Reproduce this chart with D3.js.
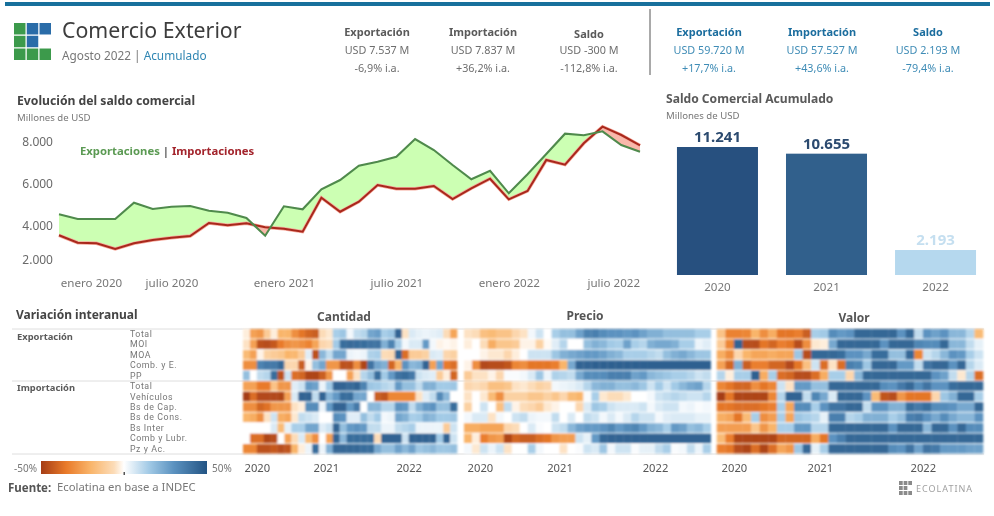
<!DOCTYPE html>
<html>
<head>
<meta charset="utf-8">
<script src="https://cdnjs.cloudflare.com/ajax/libs/d3/7.8.5/d3.min.js"></script>
<style>
  html, body { margin: 0; padding: 0; background: #fff; }
  svg { display: block; font-family: "Noto Sans", sans-serif; filter: blur(0.35px); }
  .axis path, .axis line { display: none; }
</style>
</head>
<body>
<svg id="chart" width="994" height="516"></svg>
<script>
// serie mensual, enero 2020 a agosto 2022
var meses = d3.range(32);
var exportaciones = [4557, 4333, 4333, 4333, 5110, 4810, 4919, 4952, 4729, 4633, 4381, 3538, 4938, 4795, 5748, 6190,
  6871, 7062, 7300, 8143, 7619, 6905, 6224, 6633, 5557, 6462, 7429, 8395, 8319, 8510, 7857, 7537];
var importaciones = [3557, 3205, 3176, 2905, 3176, 3333, 3443, 3524, 4143, 4033, 4129, 3938, 3871, 3729, 5348, 4681,
  5157, 5952, 5776, 5776, 5905, 5286, 5795, 6252, 5271, 5667, 7143, 6919, 7938, 8729, 8333, 7837];
var lineTicks = [8000, 6000, 4000, 2000];
var mesTicks = [0, 6, 12, 18, 24, 30];
var mesLabels = ["enero 2020", "julio 2020", "enero 2021", "julio 2021", "enero 2022", "julio 2022"];

var anios = ["2020", "2021", "2022"];
var saldoAcumulado = [11241, 10655, 2193];
var saldoLabels = ["11.241", "10.655", "2.193"];
var saldoColores = ["#27507f", "#31608c", "#b5d8ee"];
var saldoTextoColores = ["#2b4a6f", "#2b4a6f", "#c5dff0"];

var filas = ["Total", "MOI", "MOA", "Comb. y E.", "PP", "Total ", "Vehículos", "Bs de Cap.", "Bs de Cons.", "Bs Inter", "Comb y Lubr.", "Pz y Ac."];
var anioTicks = [2, 12, 24];

var cantidad = [
  [-3,-25,-28,-12,-3,-20,-20,-30,-36,-40,-42,-6,-4,14,16,2,10,12,25,27,14,16,45,-5,6,4,3,4,5,-6,-24],
  [-5,-25,-45,-46,-43,-35,-30,-28,-30,-33,-24,-8,-6,15,42,43,42,42,40,40,22,35,14,2,6,6,28,2,-2,-1,-2],
  [-18,-25,-2,-10,-12,-14,-20,-19,-12,5,-45,20,10,25,25,3,2,3,13,14,-6,-7,45,-38,-12,-12,-10,6,5,-8,-10],
  [-30,-30,35,38,38,44,-8,-8,-42,-2,18,25,-28,-28,-45,-45,-30,-48,40,25,22,-40,-20,30,20,22,45,-25,25,-35,-38],
  [18,0,10,12,42,-45,8,-38,-40,-48,-48,-42,-28,0,0,-25,-5,12,18,42,15,28,40,42,38,8,6,5,-12,-3,-40],
  [-25,-25,-35,-35,-15,-28,-28,5,8,28,26,3,15,45,45,43,45,35,16,15,12,10,28,18,18,10,22,22,15,15,16],
  [-50,-38,-47,-47,-47,-48,-25,6,45,45,10,45,20,28,42,42,25,25,0,-42,-44,-32,-32,-32,-32,-5,5,10,33,20,0],
  [-30,-30,-40,-37,-28,-28,-28,-5,-3,32,32,3,28,45,45,28,38,0,20,20,12,12,30,28,10,22,28,30,18,18,42],
  [-20,-22,-30,-5,8,-22,-24,-4,10,8,6,0,0,32,30,5,5,18,10,15,2,3,25,22,14,15,22,20,15,15,16],
  [0,0,0,0,6,-18,4,14,14,25,25,5,8,45,18,28,30,28,10,10,3,3,10,12,14,3,3,3,3,-12,8],
  [0,-38,-38,-48,-46,0,-25,-6,6,-18,-30,0,-25,45,20,42,42,42,42,-6,45,45,45,8,45,45,45,45,15,45,8],
  [-32,-32,-45,-45,-43,-46,-44,-20,-3,3,42,3,22,44,44,44,44,42,42,24,18,18,26,20,26,16,18,20,16,16,18]
];
var precio = [
  [-5,-6,-16,-18,-15,-15,-8,-5,2,8,0,14,18,18,26,35,36,32,30,30,28,30,26,22,22,18,18,18,18,14,14],
  [-3,0,-6,-22,-14,-14,-12,-2,-2,-10,-1,5,12,0,0,18,22,20,15,14,26,14,12,22,24,24,22,14,14,3,5],
  [0,0,-2,-4,-4,-8,-3,0,8,8,8,16,22,24,26,28,28,26,22,20,14,14,14,12,10,18,22,24,20,16,16],
  [-2,-30,-47,-46,-46,-44,-32,-30,-36,-36,-36,-34,-20,24,45,45,46,46,46,46,46,46,46,46,46,46,46,46,46,46,46],
  [-12,-5,-5,-2,-8,1,1,2,6,16,3,13,12,10,24,32,32,32,36,36,36,26,28,20,18,16,14,14,12,8,10],
  [-8,-6,-8,-16,-16,-14,-5,-4,-6,-10,-8,2,3,4,6,12,20,22,22,18,18,20,16,8,15,8,15,20,24,26,12],
  [-5,0,-4,-18,-30,-10,-10,-10,-14,-14,-10,-14,-8,-18,-20,1,14,-4,-6,-6,-4,0,0,2,8,10,12,10,8,8,12],
  [-10,0,8,0,-16,10,-2,-6,-8,-12,-4,-2,0,0,-8,6,16,14,8,6,6,6,8,2,6,8,8,2,3,1,2],
  [2,6,6,-5,2,0,8,10,3,2,2,10,0,6,0,10,8,2,6,2,6,12,8,8,2,5,6,6,6,4,4],
  [-22,-22,-24,-24,-24,-8,-6,0,6,1,0,8,10,20,26,28,28,30,34,28,32,34,28,22,20,14,28,26,18,20,14],
  [-20,-3,-34,-28,-26,-48,-40,-42,-42,-38,-36,-28,-26,-26,8,4,28,44,45,45,45,45,45,45,45,45,45,45,45,45,45],
  [2,-4,8,3,8,-5,0,0,14,2,0,0,-5,0,1,8,6,16,2,8,8,1,4,4,10,14,1,2,10,3,14]
];
var valor = [
  [-15,-33,-33,-32,-20,-30,-22,-36,-36,-34,-42,14,15,32,28,30,44,44,44,44,44,30,44,10,30,26,30,20,20,12,-18],
  [-12,-32,45,-46,-46,-36,-40,-34,-36,-46,-30,-4,-3,24,44,44,44,44,44,30,44,44,44,34,32,32,44,20,20,10,4],
  [-22,-30,-8,-20,-24,-24,-22,-24,-24,16,-46,44,44,44,42,30,30,24,42,42,18,18,44,-32,8,12,20,30,28,14,8],
  [-25,-40,22,-42,-34,-34,-40,-40,-47,-36,-16,8,-38,-5,-38,36,34,16,44,44,44,28,28,10,40,44,44,30,44,12,6],
  [12,-3,14,14,46,-22,14,-38,-40,-46,-46,-38,-22,14,14,-8,20,44,44,44,44,44,44,44,44,30,26,10,-4,12,-38],
  [-32,-36,-40,-40,-30,-36,-32,8,-5,28,28,18,18,44,44,44,44,44,44,32,30,38,44,32,40,30,30,42,44,44,44],
  [-50,-36,-48,-48,-48,-48,-32,12,45,45,10,34,24,6,44,44,44,30,-18,-44,-46,-28,-36,-36,-36,-8,16,22,44,44,14],
  [-36,-36,-38,-38,-38,-36,-34,14,-24,32,32,14,30,40,40,44,44,10,30,30,22,22,42,38,42,32,32,30,24,24,44],
  [-22,-24,-36,-18,14,-30,-26,14,-24,16,14,12,4,36,36,12,14,22,22,22,14,18,36,38,30,24,32,24,20,20,30],
  [-26,-26,-26,-26,-14,-28,-20,14,14,28,28,12,12,44,44,44,44,44,44,44,30,44,44,44,20,44,44,30,44,32,32],
  [-18,-34,-48,-48,-48,-48,-48,-40,-40,-40,-40,-22,-36,30,36,44,44,44,44,44,44,44,44,44,44,44,44,44,44,44,44],
  [-34,-36,-46,-48,-38,-48,-38,-24,-28,16,44,4,14,44,44,44,44,44,44,44,32,30,40,26,40,38,28,28,28,26,26]
];

var svg = d3.select("#chart");
var azul = "#1b6d9e", azulClaro = "#3f8cb6";

function texto(x, y, s, size, fill, weight, anchor) {
  return svg.append("text")
    .attr("x", x).attr("y", y)
    .attr("dy", "0.35em")
    .attr("font-size", size)
    .attr("fill", fill)
    .attr("font-weight", weight || 400)
    .attr("text-anchor", anchor || "start")
    .text(s);
}

var defs = svg.append("defs");
defs.append("filter").attr("id", "suave").append("feGaussianBlur").attr("stdDeviation", 0.8);

// encabezado
svg.append("rect").attr("x", 5).attr("y", 2).attr("width", 985).attr("height", 4).attr("fill", "#17709c");
var logoV = ["#3c9a4b", "#2a6ca8"];
var logoCeldas = [[0,0,0],[1,0,1],[2,0,1],[0,1,0],[1,1,1],[0,2,0],[1,2,0],[2,2,0]];
var logoX = d3.scaleBand().domain([0,1,2]).range([14,51]).paddingInner(0.1);
var logoY = d3.scaleBand().domain([0,1,2]).range([23,60]).paddingInner(0.1);
svg.selectAll(".logo").data(logoCeldas).enter().append("rect")
  .attr("x", function (d) { return logoX(d[0]); })
  .attr("y", function (d) { return logoY(d[1]); })
  .attr("width", logoX.bandwidth())
  .attr("height", logoY.bandwidth())
  .attr("fill", function (d) { return logoV[d[2]]; });

texto(62, 31, "Comercio Exterior", 21.3, "#3d3d3d");
var sub = texto(62, 56, "Agosto 2022 | ", 11.8, "#777");
sub.append("tspan").attr("fill", "#2f86b3").text("Acumulado");

var kpiMes = [
  [377, 32, "Exportación", "USD 7.537 M", "-6,9% i.a."],
  [483, 32.5, "Importación", "USD 7.837 M", "+36,2% i.a."],
  [589, 34, "Saldo", "USD -300 M", "-112,8% i.a."]
];
var kpiAcum = [
  [709, 32, "Exportación", "USD 59.720 M", "+17,7% i.a."],
  [822, 32, "Importación", "USD 57.527 M", "+43,6% i.a."],
  [928, 32, "Saldo", "USD 2.193 M", "-79,4% i.a."]
];
kpiMes.forEach(function (k) {
  texto(k[0], k[1], k[2], 11, "#5a5a5a", 700, "middle");
  texto(k[0], 50.5, k[3], 10.8, "#6e6e6e", 400, "middle");
  texto(k[0], 68, k[4], 10.8, "#6e6e6e", 400, "middle");
});
kpiAcum.forEach(function (k) {
  texto(k[0], k[1], k[2], 11, azul, 700, "middle");
  texto(k[0], 50, k[3], 10.8, azulClaro, 400, "middle");
  texto(k[0], 68, k[4], 10.8, azulClaro, 400, "middle");
});
svg.append("line").attr("x1", 650).attr("x2", 650).attr("y1", 9).attr("y2", 75).attr("stroke", "#555").attr("stroke-width", 1);

// evolucion del saldo
texto(17, 101, "Evolución del saldo comercial", 12.2, "#444", 700);
texto(17, 118, "Millones de USD", 9.6, "#777");

var x = d3.scaleLinear().domain([0, 31]).range([59, 640]);
var y = d3.scaleLinear().domain([2000, 8000]).range([268, 142]);

var areaBase = function (fn, y0) {
  return d3.area().x(function (d) { return x(d); }).y0(y0).y1(fn);
};
var yExp = function (d) { return y(exportaciones[d]); };
var yImp = function (d) { return y(importaciones[d]); };

defs.append("clipPath").attr("id", "bajoImp").append("path").attr("d", areaBase(yImp, 300)(meses));
defs.append("clipPath").attr("id", "sobreImp").append("path").attr("d", areaBase(yImp, 100)(meses));

svg.append("path").attr("clip-path", "url(#sobreImp)").attr("fill", "#ccffb3").attr("d", areaBase(yExp, 300)(meses));
svg.append("path").attr("clip-path", "url(#bajoImp)").attr("fill", "#f9b8ab").attr("d", areaBase(yExp, 100)(meses));

var linea = function (fn) { return d3.line().x(function (d) { return x(d); }).y(fn); };
svg.append("path").attr("fill", "none").attr("stroke", "#f6a99c").attr("stroke-width", 3.4).attr("d", linea(yImp)(meses));
svg.append("path").attr("fill", "none").attr("stroke", "#a8281c").attr("stroke-width", 2).attr("d", linea(yImp)(meses));
svg.append("path").attr("fill", "none").attr("stroke", "#4f8a4c").attr("stroke-width", 2.1).attr("d", linea(yExp)(meses));

var ejeY = svg.append("g").attr("class", "axis").attr("transform", "translate(53,0)")
  .call(d3.axisLeft(y).tickValues(lineTicks).tickSize(0).tickFormat(function (d) { return d3.format(",")(d).replace(",", "."); }));
ejeY.selectAll("text").attr("font-size", 12).attr("fill", "#6a6a6a").attr("font-family", "Noto Sans")
  .attr("dx", 3)
  .attr("dy", function (d) { return d === 2000 ? "-0.4em" : "0.32em"; });

var ejeX = svg.append("g").attr("class", "axis").attr("transform", "translate(0,276)")
  .call(d3.axisBottom(x).tickValues(mesTicks).tickSize(0).tickFormat(function (d, i) { return mesLabels[i]; }));
ejeX.selectAll("text").attr("font-size", 11.6).attr("fill", "#777").attr("font-family", "Noto Sans")
  .attr("dx", function (d) { return d === 0 ? 32 : d === 30 ? -8 : 0; });

var leyenda = texto(80, 151.5, "Exportaciones", 11.3, "#5b9a53", 700);
leyenda.append("tspan").attr("fill", "#555").text(" | ");
leyenda.append("tspan").attr("fill", "#a3242c").text("Importaciones");

// saldo acumulado
texto(666, 99, "Saldo Comercial Acumulado", 12.1, "#5a5a5a", 700);
texto(666, 116, "Millones de USD", 9.6, "#777");

var xBar = d3.scaleBand().domain(anios).range([663, 990]).paddingInner(0.257).paddingOuter(0.128);
var yBar = d3.scaleLinear().domain([0, 11241]).range([275, 147]);
svg.selectAll(".barra").data(anios).enter().append("rect")
  .attr("x", function (d) { return xBar(d); })
  .attr("width", xBar.bandwidth())
  .attr("y", function (d, i) { return yBar(saldoAcumulado[i]); })
  .attr("height", function (d, i) { return yBar(0) - yBar(saldoAcumulado[i]); })
  .attr("fill", function (d, i) { return saldoColores[i]; });
anios.forEach(function (d, i) {
  texto(xBar(d) + xBar.bandwidth() / 2, yBar(saldoAcumulado[i]) - 10, saldoLabels[i], 15, saldoTextoColores[i], 700, "middle");
  texto(xBar(d) + xBar.bandwidth() / 2, 286.5, d, 11.6, "#777", 400, "middle");
});

// variacion interanual
texto(16, 315, "Variación interanual", 12, "#444", 700);
texto(17, 337, "Exportación", 9.4, "#5a5a5a", 700);
texto(17, 388, "Importación", 9.4, "#5a5a5a", 700);

var yFila = d3.scaleBand().domain(d3.range(12)).range([329, 453.5]).paddingInner(0.1);
var colorVar = d3.scaleLinear()
  .domain([-50, -35, -20, -6, 0, 15, 30, 50])
  .range(["#a53d16", "#e97a29", "#f9b56b", "#fcdcb8", "#ffffff", "#a2cae6", "#5b92c0", "#235484"]);

filas.forEach(function (f, i) {
  texto(130, yFila(i) + yFila.bandwidth() / 2, f, 8.8, "#777")
    .attr("font-family", "Roboto")
    .attr("letter-spacing", 0.55);
});

[329, 381, 454].forEach(function (py) {
  svg.append("line").attr("x1", 12).attr("x2", 984).attr("y1", py).attr("y2", py).attr("stroke", "#dedede").attr("stroke-width", 1);
});

function panel(valores, x0, x1, titulo, tituloX, tituloY) {
  var xCelda = d3.scaleBand().domain(d3.range(31)).range([x0, x1]);
  var xAnio = d3.scaleLinear().domain([0, 31]).range([x0, x1]);
  var g = svg.append("g").attr("class", "panel").attr("filter", "url(#suave)");
  g.selectAll("g").data(valores).enter().append("g")
    .attr("transform", function (d, i) { return "translate(0," + yFila(i) + ")"; })
    .selectAll("rect").data(function (d) { return d; }).enter().append("rect")
    .attr("x", function (d, i) { return xCelda(i); })
    .attr("width", xCelda.bandwidth() + 0.3)
    .attr("height", yFila.bandwidth())
    .attr("fill", function (d) { return colorVar(d); });
  texto(tituloX, tituloY, titulo, 12, "#555", 700, "middle");
  var eje = svg.append("g").attr("class", "axis").attr("transform", "translate(0,469)")
    .call(d3.axisBottom(xAnio).tickValues(anioTicks).tickSize(0).tickFormat(function (d, i) { return anios[i]; }));
  eje.selectAll("text").attr("font-size", 11.2).attr("fill", "#555").attr("font-family", "Noto Sans").attr("dy", 0);
}
panel(cantidad, 243, 457, "Cantidad", 344, 317);
panel(precio, 464, 710.7, "Precio", 585, 316);
panel(valor, 716.7, 983, "Valor", 854, 318);

// leyenda de color
var grad = defs.append("linearGradient").attr("id", "gradVar");
colorVar.domain().forEach(function (d) {
  grad.append("stop").attr("offset", (d + 50) + "%").attr("stop-color", colorVar(d));
});
var xLeg = d3.scaleLinear().domain([-50, 50]).range([41, 207]);
svg.append("rect").attr("x", xLeg(-50)).attr("y", 461).attr("width", xLeg(50) - xLeg(-50)).attr("height", 13).attr("fill", "url(#gradVar)");
svg.append("rect").attr("x", xLeg(0) - 0.5).attr("y", 472).attr("width", 1.5).attr("height", 3).attr("fill", "#555");
texto(14, 468, "-50%", 10, "#777");
texto(212, 468, "50%", 10, "#777");

texto(8, 487.5, "Fuente:", 11.5, "#555", 700);
texto(57, 487.5, "Ecolatina en base a INDEC", 11.3, "#777");

// marca
var marcaX = d3.scaleBand().domain([0,1,2]).range([899,912]).paddingInner(0.2);
var marcaY = d3.scaleBand().domain([0,1,2]).range([481,495]).paddingInner(0.2);
[[0,0],[1,0],[2,0],[0,1],[1,1],[0,2],[1,2],[2,2]].forEach(function (c) {
  svg.append("rect").attr("x", marcaX(c[0])).attr("y", marcaY(c[1])).attr("width", marcaX.bandwidth()).attr("height", marcaY.bandwidth()).attr("fill", "#8a8a8a");
});
texto(916, 488.5, "ECOLATINA", 9, "#a0a0a0").attr("letter-spacing", 1);
</script>
</body>
</html>
